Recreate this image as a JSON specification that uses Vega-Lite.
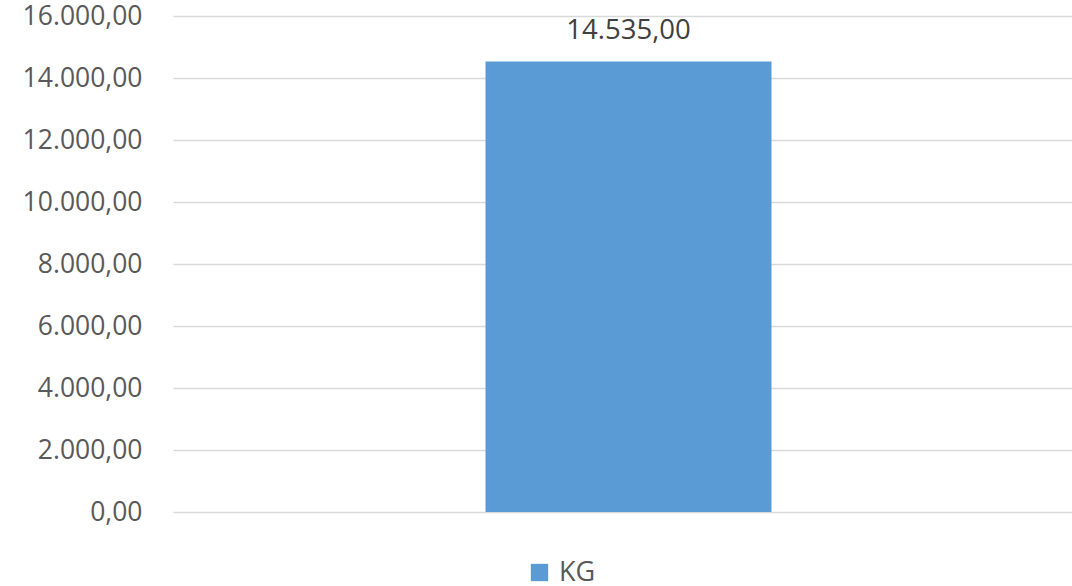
{
  "$schema": "https://vega.github.io/schema/vega-lite/v6.json",
  "width": 899,
  "height": 496,
  "autosize": "none",
  "padding": {"left": 173, "top": 16, "right": 0, "bottom": 74},
  "background": "white",
  "config": {
    "view": {"stroke": null},
    "locale": {"number": {"decimal": ",", "thousands": ".", "grouping": [3], "currency": ["", " €"]}},
    "font": "Open Sans"
  },
  "data": {"values": [{"series": "KG", "category": "", "value": 14535}]},
  "encoding": {
    "x": {
      "field": "category",
      "type": "nominal",
      "scale": {"paddingInner": 0, "paddingOuter": 1.07, "align": 0.51},
      "axis": null
    },
    "y": {
      "field": "value",
      "type": "quantitative",
      "scale": {"domain": [0, 16000], "nice": false},
      "axis": {
        "title": null,
        "values": [0, 2000, 4000, 6000, 8000, 10000, 12000, 14000, 16000],
        "format": ",.2f",
        "labelOverlap": false,
        "domain": false,
        "ticks": false,
        "labelPadding": 31,
        "labelFontSize": 26.5,
        "labelColor": "#595959",
        "labelFont": "Open Sans",
        "gridColor": "#D9D9D9",
        "gridWidth": 1.5
      }
    }
  },
  "layer": [
    {
      "mark": {"type": "bar", "color": "#5B9BD5", "width": 286},
      "encoding": {
        "color": {
          "field": "series",
          "type": "nominal",
          "scale": {"range": ["#5B9BD5"]},
          "legend": {
            "title": null,
            "orient": "none",
            "legendX": 353,
            "legendY": 543,
            "symbolType": "square",
            "symbolSize": 300,
            "symbolStrokeWidth": 0,
            "labelFontSize": 27,
            "labelColor": "#595959",
            "labelFont": "Open Sans",
            "labelOffset": 6
          }
        }
      }
    },
    {
      "mark": {"type": "text", "baseline": "bottom", "dy": -16, "fontSize": 27.5, "color": "#404040", "font": "Open Sans"},
      "encoding": {"text": {"field": "value", "type": "quantitative", "format": ",.2f"}}
    }
  ]
}
